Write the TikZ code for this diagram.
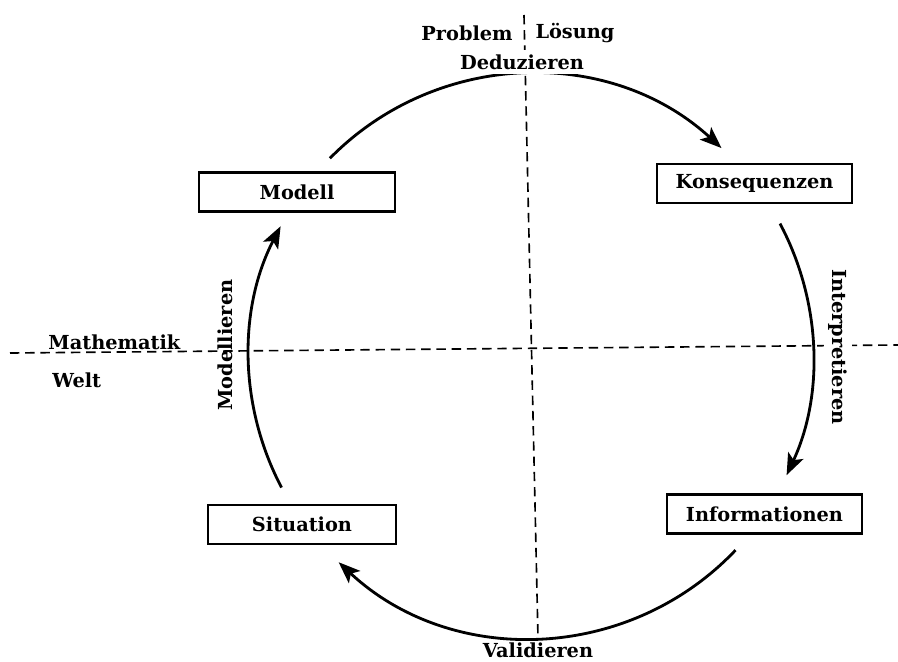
\documentclass[tikz,border=0pt]{standalone}
\usepackage{fontspec}
\setmainfont{DejaVu Serif}
\usetikzlibrary{arrows.meta,calc}
\begin{document}
\begin{tikzpicture}[x=0.03cm,y=0.03cm,
  txt/.style={font=\fontsize{16.5}{19}\selectfont\bfseries, inner sep=1pt},
  box/.style={txt, draw, line width=2pt, minimum height=1.18cm},
  divider/.style={dashed, dash pattern=on 8pt off 5pt, line width=1.4pt},
  cycle/.style={line width=2.4pt, -{Stealth[length=0.65cm,width=0.5cm,inset=0.15cm]}},
  blank/.style={fill=white, inner sep=4pt}]
\useasboundingbox (0,0) rectangle (898,661);
% dividing lines
\coordinate (vtop) at (524,646);
\coordinate (vbot) at (538,23);
\coordinate (hleft) at (10,308);
\coordinate (hright) at (898,316);
\draw[divider] (vtop) -- (vbot);
\draw[divider] (hleft) -- (hright);
% boxes
\node[box, minimum width=5.88cm] (modell) at (297,469) {Modell};
\node[box, minimum width=5.85cm] (kons) at (754.5,477.5) {Konsequenzen};
\node[box, minimum width=5.64cm] (sit) at (302,136.5) {Situation};
\node[box, minimum width=5.85cm] (info) at (764.5,147) {Informationen};
% cycle arcs
\coordinate (c) at (531,305);
\coordinate (a1) at ($(c)+(135.5:8.46cm)$);
\coordinate (a2) at ($(c)+(28:8.46cm)$);
\coordinate (a3) at ($(c)+(-43.5:8.46cm)$);
\coordinate (a4) at ($(c)+(207.8:8.46cm)$);
\draw[cycle] (a1) arc[start angle=135.5, end angle=47.5, radius=8.46cm];
\draw[cycle] (a2) arc[start angle=28, end angle=-25, radius=8.46cm];
\draw[cycle] (a3) arc[start angle=-43.5, end angle=-133, radius=8.46cm];
\draw[cycle] (a4) arc[start angle=207.8, end angle=152.6, radius=8.46cm];
% labels
\node[txt] (problem) at (467,628) {Problem};
\node[txt] (loesung) at (575,628) {Lösung};
\node[txt, blank] (ded) at (522,599) {Deduzieren};
\node[txt, anchor=west] (math) at (47,319) {Mathematik};
\node[txt, anchor=west] (welt) at (51,281) {Welt};
\node[txt, rotate=90] (modl) at (225,316) {Modellieren};
\node[txt, blank, rotate=-90] (interp) at (838,314) {Interpretieren};
\node[txt] (valid) at (538,11) {Validieren};
\end{tikzpicture}
\end{document}
